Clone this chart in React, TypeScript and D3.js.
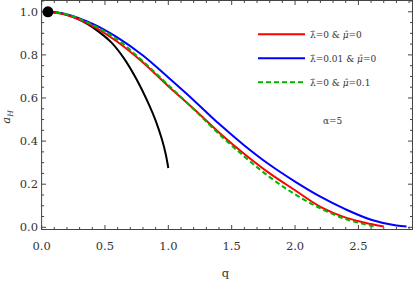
import React, { useEffect, useRef } from 'react';
import * as d3 from 'd3';

// curve samples: [q, a_H]
const blackCurve: [number, number][] = [
    [0.05, 1.0], [0.15, 0.993], [0.25, 0.975], [0.35, 0.947], [0.45, 0.908], [0.55, 0.858],
    [0.65, 0.784], [0.75, 0.686], [0.85, 0.566], [0.9, 0.495], [0.95, 0.407], [0.98, 0.338], [1.0, 0.275]
];
const redCurve: [number, number][] = [
    [0.05, 1.0], [0.2, 0.985], [0.4, 0.935], [0.6, 0.86], [0.8, 0.765], [1.0, 0.655], [1.2, 0.55],
    [1.4, 0.44], [1.6, 0.34], [1.8, 0.25], [2.0, 0.172], [2.2, 0.095], [2.4, 0.045], [2.6, 0.015], [2.7, 0.004]
];
const blueCurve: [number, number][] = [
    [0.05, 1.0], [0.2, 0.988], [0.4, 0.945], [0.6, 0.88], [0.8, 0.797], [1.0, 0.695], [1.2, 0.59],
    [1.4, 0.48], [1.6, 0.38], [1.8, 0.29], [2.0, 0.212], [2.2, 0.142], [2.4, 0.083], [2.6, 0.035],
    [2.8, 0.008], [2.88, 0.004]
];
const greenCurve: [number, number][] = [
    [0.05, 1.0], [0.2, 0.988], [0.4, 0.94], [0.6, 0.87], [0.8, 0.77], [1.0, 0.66], [1.2, 0.548],
    [1.4, 0.433], [1.6, 0.328], [1.8, 0.233], [2.0, 0.153], [2.2, 0.088], [2.4, 0.038], [2.6, 0.007], [2.62, 0.004]
];
const dotPoint: [number, number] = [0.05, 1.0];

const xTicks = [0, 0.5, 1.0, 1.5, 2.0, 2.5];
const yTicks = [0, 0.2, 0.4, 0.6, 0.8, 1.0];

const legendItems = [
    { label: '0', mu: '0', color: '#ff0000', dash: null, data: redCurve },
    { label: '0.01', mu: '0', color: '#0000ff', dash: null, data: blueCurve },
    { label: '0', mu: '0.1', color: '#00b400', dash: '5,3', data: greenCurve }
];

const FONT = "'DejaVu Serif', 'Liberation Serif', serif";

const App = () => {
    const svgRef = useRef<SVGSVGElement>(null);

    useEffect(() => {
        const svg = d3.select(svgRef.current);
        svg.selectAll('*').remove();

        const left = 41.6, right = 412.5, top = 0.5, bottom = 229.5;
        const x = d3.scaleLinear().domain([0, 2.927]).range([left, right]);
        const y = d3.scaleLinear().domain([-0.0102, 1.0524]).range([bottom, top]);
        const axisColor = '#444';

        // frame
        svg.append('rect')
            .attr('x', left).attr('y', top)
            .attr('width', right - left).attr('height', bottom - top)
            .attr('fill', 'none').attr('stroke', axisColor).attr('stroke-width', 1);

        // ticks (inward, all four sides)
        const minorX = d3.range(0, 2.95, 0.1);
        const minorY = d3.range(0, 1.06, 0.05);
        minorX.forEach(v => {
            const major = xTicks.some(t => Math.abs(t - v) < 1e-6);
            const len = major ? 4.5 : 2.5;
            const px = x(v);
            svg.append('line').attr('x1', px).attr('x2', px).attr('y1', bottom).attr('y2', bottom - len)
                .attr('stroke', axisColor);
            svg.append('line').attr('x1', px).attr('x2', px).attr('y1', top).attr('y2', top + len)
                .attr('stroke', axisColor);
        });
        minorY.forEach(v => {
            const major = yTicks.some(t => Math.abs(t - v) < 1e-6);
            const len = major ? 4.5 : 2.5;
            const py = y(v);
            svg.append('line').attr('x1', left).attr('x2', left + len).attr('y1', py).attr('y2', py)
                .attr('stroke', axisColor);
            svg.append('line').attr('x1', right).attr('x2', right - len).attr('y1', py).attr('y2', py)
                .attr('stroke', axisColor);
        });

        // tick labels
        svg.append('g').selectAll('text')
            .data(xTicks).enter().append('text')
            .attr('x', d => x(d)).attr('y', 250)
            .attr('text-anchor', 'middle')
            .style('font-family', FONT).style('font-size', '11.5px').attr('fill', '#333')
            .text(d => d3.format('.1f')(d));
        svg.append('g').selectAll('text')
            .data(yTicks).enter().append('text')
            .attr('x', 38).attr('y', d => y(d) + 4)
            .attr('text-anchor', 'end')
            .style('font-family', FONT).style('font-size', '11.5px').attr('fill', '#333')
            .text(d => d3.format('.1f')(d));

        // axis titles
        svg.append('text')
            .attr('x', x(1.45)).attr('y', 277)
            .attr('text-anchor', 'middle')
            .style('font-family', FONT).style('font-size', '11.5px').attr('fill', '#333')
            .text('q');
        const yl = svg.append('text')
            .attr('transform', 'translate(10,117) rotate(-90)')
            .attr('text-anchor', 'middle')
            .style('font-family', FONT).style('font-size', '11.5px').attr('fill', '#333');
        yl.append('tspan').style('font-style', 'italic').text('a');
        yl.append('tspan').style('font-size', '7.5px').style('font-style', 'italic').attr('dy', 2.5).text('H');

        // curves
        const line = d3.line<[number, number]>()
            .x(d => x(d[0])).y(d => y(d[1]))
            .curve(d3.curveCatmullRom.alpha(0.5));

        svg.append('path').datum(blackCurve)
            .attr('d', line).attr('fill', 'none').attr('stroke', '#000').attr('stroke-width', 2);

        [legendItems[1], legendItems[0], legendItems[2]].forEach(item => {
            svg.append('path').datum(item.data)
                .attr('d', line).attr('fill', 'none')
                .attr('stroke', item.color).attr('stroke-width', 2)
                .attr('stroke-dasharray', item.dash);
        });

        svg.append('circle')
            .attr('cx', x(dotPoint[0])).attr('cy', y(dotPoint[1]))
            .attr('r', 5.5).attr('fill', '#000');

        // legend
        legendItems.forEach((item, i) => {
            const ly = 34.3 + i * 24;
            svg.append('line')
                .attr('x1', 258).attr('x2', 305).attr('y1', ly).attr('y2', ly)
                .attr('stroke', item.color).attr('stroke-width', 2)
                .attr('stroke-dasharray', item.dash);
            const t = svg.append('text')
                .attr('x', 310).attr('y', ly + 3.5)
                .style('font-family', FONT).style('font-size', '9px').attr('fill', '#333');
            t.append('tspan').text('\u03bb\u0302=' + item.label);
            t.append('tspan').text(' & ');
            t.append('tspan').style('font-style', 'italic').text('\u03bc\u0302');
            t.append('tspan').text('=' + item.mu);
        });

        svg.append('text')
            .attr('x', 323).attr('y', 124)
            .style('font-family', FONT).style('font-size', '9px').attr('fill', '#333')
            .text('\u03b1=5');
    }, []);

    return (
        <svg ref={svgRef} width={415} height={282}
            style={{ position: 'absolute', left: 0, top: 0, background: '#fff' }} />
    );
};

export default App;
